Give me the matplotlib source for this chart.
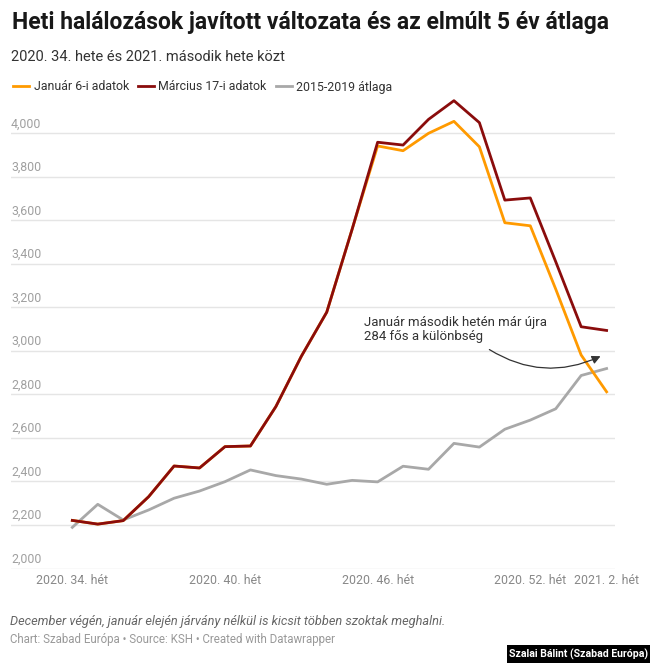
import matplotlib
matplotlib.use('Agg')
import matplotlib.pyplot as plt
from matplotlib.lines import Line2D
from matplotlib.patches import Rectangle, FancyArrowPatch
import matplotlib.transforms as mtransforms

plt.rcParams['font.family'] = ['Roboto', 'DejaVu Sans']

# 2020 week 34 .. 2021 week 2
weeks = list(range(22))
tick_pos = [0, 6, 12, 18, 21]
tick_labels = ['2020. 34. hét', '2020. 40. hét', '2020. 46. hét', '2020. 52. hét', '2021. 2. hét']

jan6 = [2221, 2204, 2220, 2330, 2471, 2462, 2560, 2563, 2744, 2975, 3178, 3560,
        3942, 3920, 4000, 4055, 3938, 3589, 3575, 3284, 2981, 2812]
mar17 = [2221, 2204, 2220, 2330, 2471, 2462, 2560, 2563, 2744, 2975, 3178, 3560,
         3959, 3946, 4064, 4150, 4049, 3693, 3703, 3410, 3111, 3094]
avg = [2189, 2295, 2223, 2269, 2323, 2356, 2399, 2453, 2427, 2411, 2387, 2405,
       2398, 2470, 2456, 2575, 2558, 2640, 2682, 2734, 2887, 2919]

yticks = [2000, 2200, 2400, 2600, 2800, 3000, 3200, 3400, 3600, 3800, 4000]

c_orange = '#ff9a00'
c_red = '#8a0c0c'
c_gray = '#a8a8a8'

W, H = 650, 663
fig = plt.figure(figsize=(6.5, 6.63), dpi=100)
ax = fig.add_axes([11 / W, (H - 568.5) / H, (615 - 11) / W, (568.5 - 98.5) / H])

ax.plot(weeks, avg, color=c_gray, lw=2, zorder=3)
ax.plot(weeks, jan6, color=c_orange, lw=2, zorder=4)
ax.plot(weeks, mar17, color=c_red, lw=2, zorder=5)

ax.set_xlim(-2.41, 21.33)
ax.set_ylim(2000, 4160)
for s in ax.spines.values():
    s.set_visible(False)
ax.set_yticks(yticks)
ax.set_yticklabels([])
ax.tick_params(axis='y', length=0)
ax.grid(axis='y', color='#e5e5e5', lw=1, zorder=0)
ax.set_xticks(tick_pos)
ax.set_xticklabels(tick_labels, fontsize=8.9, color='#888888')
ax.tick_params(axis='x', length=0, pad=4)

# y labels sit above the gridlines at the left edge
trans = mtransforms.blended_transform_factory(ax.transAxes, ax.transData)
off = mtransforms.offset_copy(trans, fig=fig, x=0, y=3, units='dots')
for v in yticks:
    ax.text(0, v, f'{v:,}', transform=off, ha='left', va='bottom',
            fontsize=8.9, color='#a0a0a0')

# annotation
ax.text(11.45, 3036, 'Január második hetén már újra\n284 fős a különbség',
        fontsize=9.5, color='#333333', ha='left', va='bottom', linespacing=1.1)
arr = FancyArrowPatch((16.3, 3013), (20.86, 2981), connectionstyle='arc3,rad=0.28',
                      arrowstyle='-|>,head_length=5,head_width=2.5', color='#333333',
                      lw=0.9, zorder=6)
ax.add_patch(arr)

# titles
fig.text(12 / W, 1 - 23 / H, 'Heti halálozások javított változata és az elmúlt 5 év átlaga',
         fontsize=16.5, fontweight='bold', color='#181818', ha='left', va='center')
fig.text(11 / W, 1 - 57 / H, '2020. 34. hete és 2021. második hete közt',
         fontsize=10.5, color='#333333', ha='left', va='center')

handles = [Line2D([], [], color=c_orange, lw=2),
           Line2D([], [], color=c_red, lw=2),
           Line2D([], [], color=c_gray, lw=2)]
fig.legend(handles, ['Január 6-i adatok', 'Március 17-i adatok', '2015-2019 átlaga'],
           loc='center left', bbox_to_anchor=(2 / W, 1 - 87 / H), ncol=3, frameon=False,
           fontsize=8.9, handlelength=1.3, handletextpad=0.35, columnspacing=0.75,
           labelcolor='#333333')

# footer
fig.text(10 / W, 1 - 621 / H,
         'December végén, január elején járvány nélkül is kicsit többen szoktak meghalni.',
         fontsize=9.2, style='italic', color='#666666', ha='left', va='center')
fig.text(10 / W, 1 - 640 / H, 'Chart: Szabad Európa • Source: KSH • Created with Datawrapper',
         fontsize=8.3, color='#999999', ha='left', va='center')

fig.patches.append(Rectangle((507 / W, 0), 143 / W, 18 / H, transform=fig.transFigure,
                             facecolor='black', edgecolor='none'))
fig.text(578.5 / W, 9 / H, 'Szalai Bálint (Szabad Európa)', fontsize=7.6, fontweight='bold',
         color='white', ha='center', va='center')

fig.savefig('out.png', dpi=100, facecolor='white')
